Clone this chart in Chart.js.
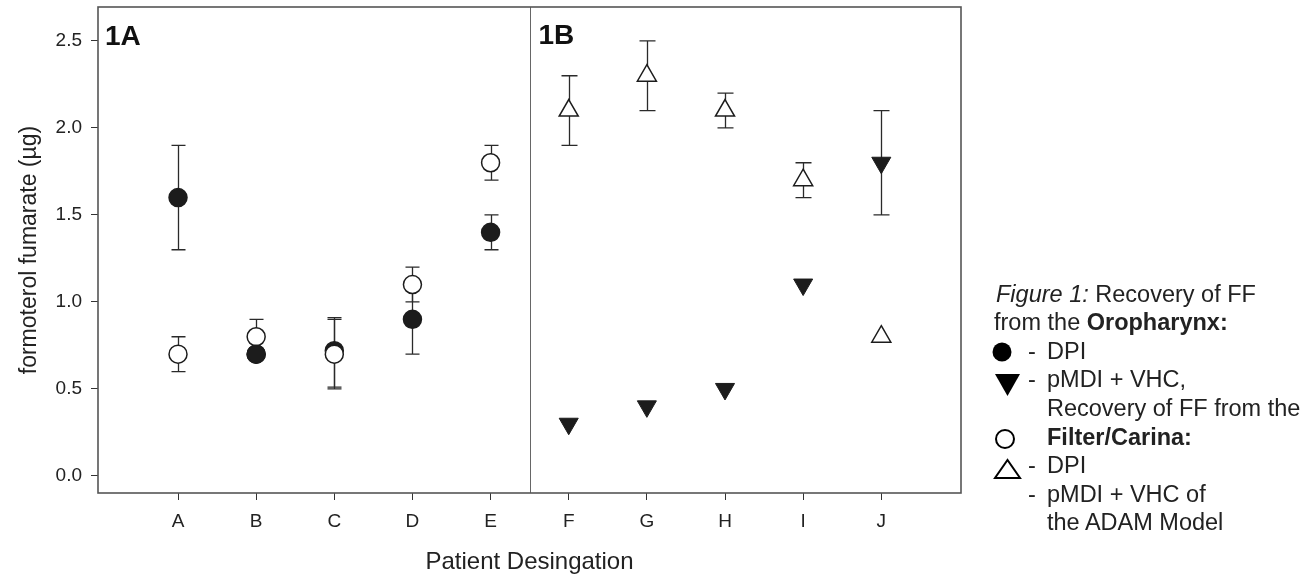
<!DOCTYPE html>
<html><head><meta charset="utf-8">
<script src="https://cdn.jsdelivr.net/npm/chart.js@4"></script>
<style>
html,body{margin:0;padding:0;background:#fff;}
#wrap{position:relative;width:1309px;height:577px;overflow:hidden;}
canvas{position:absolute;left:0;top:0;}
#legend{position:absolute;left:0;top:0;width:1309px;height:577px;font-family:"Liberation Sans",Arial,sans-serif;font-size:23.5px;color:#222;}
#legend div{position:absolute;white-space:nowrap;line-height:28px;height:28px;}
</style></head><body>
<div id="wrap"><canvas id="c" width="1309" height="577"></canvas>
<div id="legend">
  <div style="left:996px;top:280px"><i>Figure 1:</i> Recovery of FF</div>
  <div style="left:994px;top:308px">from the <b>Oropharynx:</b></div>
  <div style="left:1028px;top:337px">-</div><div style="left:1047px;top:337px">DPI</div>
  <div style="left:1028px;top:365px">-</div><div style="left:1047px;top:365px">pMDI + VHC,</div>
  <div style="left:1047px;top:394px">Recovery of FF from the</div>
  <div style="left:1047px;top:423px"><b>Filter/Carina:</b></div>
  <div style="left:1028px;top:451px">-</div><div style="left:1047px;top:451px">DPI</div>
  <div style="left:1028px;top:480px">-</div><div style="left:1047px;top:480px">pMDI + VHC of</div>
  <div style="left:1047px;top:508px">the ADAM Model</div>
</div></div>
<script>
// ---- data ----
const patients = ['A','B','C','D','E','F','G','H','I','J'];
const yTicks = [0, 0.5, 1.0, 1.5, 2.0, 2.5];
const panelLabels = ['1A', '1B'];
// Panel 1A (patients A-E): DPI
const oroDPI      = [1.6, 0.7, 0.72, 0.9, 1.4];   // filled circle (Oropharynx)
const oroDPILo    = [1.3, null, 0.51, 0.7, 1.3];
const oroDPIHi    = [1.9, null, 0.91, 1.1, 1.5];
const filterDPI   = [0.7, 0.8, 0.7, 1.1, 1.8];    // open circle (Filter/Carina)
const filterDPILo = [0.6, 0.7, 0.5, 1.0, 1.7];
const filterDPIHi = [0.8, 0.9, 0.9, 1.2, 1.9];
// Panel 1B (patients F-J): pMDI + VHC
const oroPMDI      = [0.3, 0.4, 0.5, 1.1, 1.8];   // filled down-triangle (Oropharynx)
const oroPMDILo    = [null, null, null, null, 1.5];
const oroPMDIHi    = [null, null, null, null, 2.1];
const filterPMDI   = [2.1, 2.3, 2.1, 1.7, 0.8];   // open up-triangle (Filter/Carina)
const filterPMDILo = [1.9, 2.1, 2.0, 1.6, null];
const filterPMDIHi = [2.3, 2.5, 2.2, 1.8, null];
const frontOroDPI = [1];  // patient B: filled circle drawn above open circle

const INK = '#1c1c1c';
const FONT = '"Liberation Sans", Arial, sans-serif';
Chart.defaults.font.family = FONT;
Chart.defaults.color = '#222';

function pts(vals, offset, idx) {
  const list = idx ? idx : vals.map((v, i) => i);
  return list.map(i => ({x: i + offset, y: vals[i]}));
}

// Chart.js draws the first dataset on top
const datasets = [
  {data: pts(oroDPI, 0, frontOroDPI),
   pointStyle: 'circle', pointRadius: 9, backgroundColor: INK, borderColor: INK, borderWidth: 1.5},
  {data: pts(filterDPI, 0), errLo: filterDPILo, errHi: filterDPIHi, off: 0, cap: 7,
   pointStyle: 'circle', pointRadius: 9, backgroundColor: '#fff', borderColor: INK, borderWidth: 1.5},
  {data: pts(oroDPI, 0), errLo: oroDPILo, errHi: oroDPIHi, off: 0, cap: 7,
   pointStyle: 'circle', pointRadius: 9, backgroundColor: INK, borderColor: INK, borderWidth: 1.5},
  {data: pts(filterPMDI, 5), errLo: filterPMDILo, errHi: filterPMDIHi, off: 5, cap: 8,
   pointStyle: 'triangle', pointRadius: 11, backgroundColor: '#fff', borderColor: INK, borderWidth: 1.5},
  {data: pts(oroPMDI, 5), errLo: oroPMDILo, errHi: oroPMDIHi, off: 5, cap: 8,
   pointStyle: 'triangle', rotation: 180, pointRadius: 11, backgroundColor: INK, borderColor: INK, borderWidth: 1}
];

const decor = {
  id: 'decor',
  beforeDatasetsDraw(chart) {
    const {ctx, chartArea: a, scales: {x, y}} = chart;
    ctx.save();
    // error bars
    ctx.strokeStyle = '#2a2a2a';
    ctx.lineWidth = 1.3;
    chart.data.datasets.forEach(ds => {
      if (!ds.errLo) return;
      ds.errLo.forEach((lo, i) => {
        const hi = ds.errHi[i];
        if (lo == null || hi == null) return;
        const px = Math.round(x.getPixelForValue(i + ds.off)) + 0.5;
        const yl = y.getPixelForValue(lo), yh = y.getPixelForValue(hi);
        ctx.beginPath();
        ctx.moveTo(px, yl); ctx.lineTo(px, yh);
        ctx.moveTo(px - ds.cap, yl); ctx.lineTo(px + ds.cap, yl);
        ctx.moveTo(px - ds.cap, yh); ctx.lineTo(px + ds.cap, yh);
        ctx.stroke();
      });
    });
    // panel divider
    const dx = Math.round(x.getPixelForValue(4.5)) + 0.5;
    ctx.strokeStyle = '#666';
    ctx.lineWidth = 1;
    ctx.beginPath(); ctx.moveTo(dx, a.top); ctx.lineTo(dx, a.bottom); ctx.stroke();
    // frame
    ctx.strokeStyle = '#555';
    ctx.lineWidth = 1.6;
    ctx.strokeRect(a.left, a.top, a.right - a.left, a.bottom - a.top);
    // panel labels
    ctx.fillStyle = '#111';
    ctx.font = 'bold 28px ' + FONT;
    ctx.textBaseline = 'alphabetic';
    ctx.textAlign = 'left';
    ctx.fillText(panelLabels[0], a.left + 7, 45);
    ctx.fillText(panelLabels[1], dx + 8, 44);
    ctx.restore();
  },
  afterDraw(chart) {
    const ctx = chart.ctx;
    ctx.save();
    ctx.fillStyle = '#000';
    ctx.strokeStyle = '#000';
    // filled circle
    ctx.beginPath(); ctx.arc(1002, 352, 9.5, 0, Math.PI * 2); ctx.fill();
    // filled down triangle
    ctx.beginPath(); ctx.moveTo(995, 374); ctx.lineTo(1020, 374); ctx.lineTo(1007.5, 396); ctx.closePath(); ctx.fill();
    // open circle
    ctx.lineWidth = 2;
    ctx.beginPath(); ctx.arc(1005, 439, 9, 0, Math.PI * 2); ctx.stroke();
    // open up triangle
    ctx.beginPath(); ctx.moveTo(995, 478); ctx.lineTo(1020, 478); ctx.lineTo(1007.5, 460); ctx.closePath(); ctx.stroke();
    ctx.restore();
  }
};

const tickGrid = {display: true, drawOnChartArea: false, drawTicks: true, tickLength: 7, color: '#333', lineWidth: 1};

new Chart(document.getElementById('c'), {
  type: 'scatter',
  data: {datasets},
  options: {
    responsive: false, animation: false, devicePixelRatio: 1,
    layout: {autoPadding: false, padding: {left: 0, right: 348, top: 7, bottom: 0}},
    plugins: {legend: {display: false}, tooltip: {enabled: false}},
    scales: {
      x: {
        type: 'linear', min: -1.024, max: 10.02,
        afterBuildTicks: s => { s.ticks = patients.map((p, i) => ({value: i})); },
        afterFit: s => { s.height = 84; s.paddingLeft = 0; s.paddingRight = 0; },
        ticks: {callback: v => patients[v] ?? '', font: {size: 19}, padding: 10, maxRotation: 0, autoSkip: false, color: '#222'},
        grid: tickGrid,
        border: {display: false},
        title: {display: true, text: 'Patient Desingation', font: {size: 24}, color: '#222', padding: {top: 0, bottom: 0}}
      },
      y: {
        type: 'linear', min: -0.098, max: 2.695,
        afterBuildTicks: s => { s.ticks = yTicks.map(v => ({value: v})); },
        afterFit: s => { s.width = 98; s.paddingTop = 0; s.paddingBottom = 0; },
        ticks: {callback: v => Number(v).toFixed(1), font: {size: 19}, padding: 9, color: '#222'},
        grid: tickGrid,
        border: {display: false},
        title: {display: true, text: 'formoterol fumarate (µg)', font: {size: 23}, color: '#222', padding: {top: 16, bottom: 0}}
      }
    }
  },
  plugins: [decor]
});
</script>
</body></html>
